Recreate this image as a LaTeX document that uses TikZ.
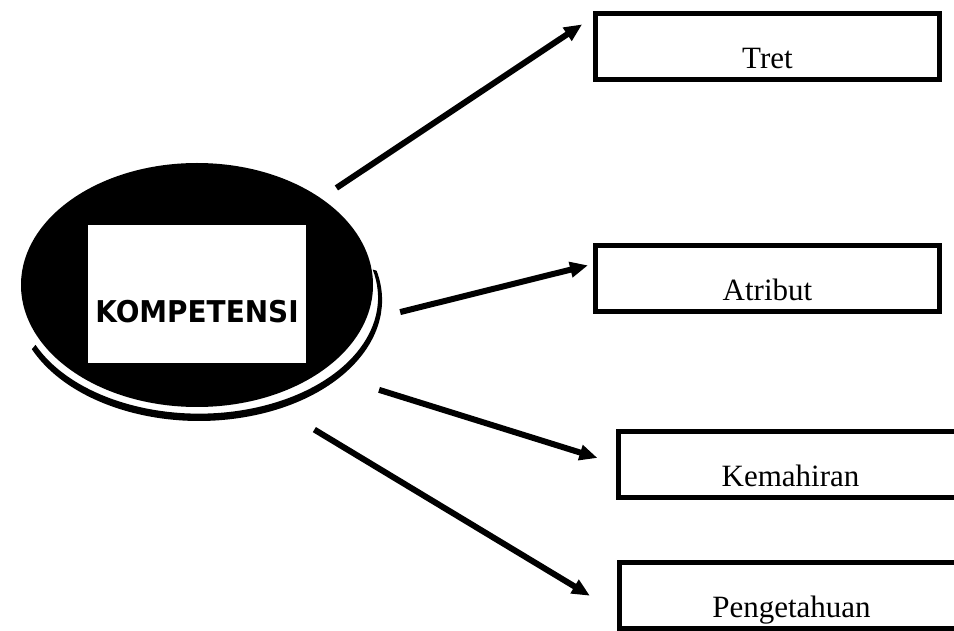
\documentclass[tikz,border=0pt]{standalone}
\usepackage{fontspec}
\setmainfont{Liberation Serif}
\newfontfamily\kompfont{DejaVu Sans}[FakeStretch=0.93]
\usepackage{tikz}
\usetikzlibrary{shapes.geometric, arrows.meta}

\begin{document}
\begin{tikzpicture}[
  x=1pt, y=1pt,
  core/.style={ellipse, fill=black, minimum width=352pt, minimum height=244pt, inner sep=0pt, outer sep=0pt},
  corebox/.style={rectangle, fill=white, minimum width=218pt, inner sep=0pt, text height=98pt, text depth=40pt, font=\kompfont\bfseries\fontsize{30}{36}\selectfont},
  item/.style={rectangle, draw=black, line width=5pt, fill=white, minimum width=344pt, inner sep=0pt, outer sep=0pt, text height=55pt, text depth=11pt, font=\fontsize{31}{37}\selectfont},
  arrow/.style={-{Triangle[length=18pt, width=15pt]}, line width=6pt}
]
\useasboundingbox (0,0) rectangle (954,630);
\clip (0,0) rectangle (954,630);

% central ellipse with its shadow ring
\fill (376.6,359.3) arc[start angle=14, end angle=-156, x radius=183, y radius=121]
  -- (35.5,285.2) arc[start angle=-156, end angle=14, x radius=179, y radius=116] -- cycle;
\node[core] (komp) at (197,345) {};
\node[corebox] (kbox) at (197,336) {KOMPETENSI};

% the four boxes
\node[item] (tret) at (767.5,583) {Tret};
\node[item] (atribut) at (767.5,351.5) {Atribut};
\node[item] (mahir) at (790.5,165.5) {Kemahiran};
\node[item] (tahu) at (791.5,34.5) {Pengetahuan};

\draw[arrow, shorten <=18.7pt, shorten >=18.7pt] (komp.35.6) -- (tret.169);
\draw[arrow, shorten <=36pt, shorten >=7.7pt] (komp.-12.3) -- (atribut.175.5);
\draw[arrow, shorten <=61pt, shorten >=22pt] (komp.-35.5) -- (mahir.west);
\draw[arrow, shorten <=60.7pt, shorten >=34.5pt] (komp.-60.6) -- (tahu.186.4);

\end{tikzpicture}
\end{document}
